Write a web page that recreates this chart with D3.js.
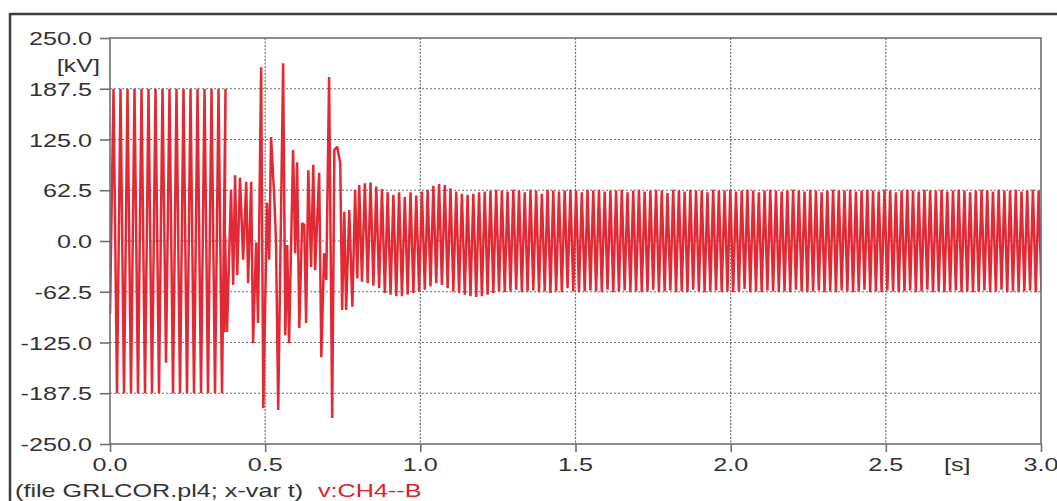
<!DOCTYPE html>
<html>
<head>
<meta charset="utf-8">
<script src="https://cdn.jsdelivr.net/npm/d3@7"></script>
<style>
  html, body { margin: 0; padding: 0; background: #fff; }
  svg { display: block; }
  text { font-family: "Liberation Sans", Arial, sans-serif; }
</style>
</head>
<body>
<svg id="chart" width="1057" height="501"></svg>
<script>
// ---------------- DATA ----------------
const yTickValues = [250, 187.5, 125, 62.5, 0, -62.5, -125, -187.5, -250];
const yTickLabels = ["250.0", "187.5", "125.0", "62.5", "0.0", "-62.5", "-125.0", "-187.5", "-250.0"];
const xTickValues = [0, 0.5, 1.0, 1.5, 2.0, 2.5, 3.0];
const xTickLabels = ["0.0", "0.5", "1.0", "1.5", "2.0", "2.5", "3.0"];
const yUnit = "[kV]";
const xUnit = "[s]";
const footerFile = "(file GRLCOR.pl4; x-var t)";
const footerVar = "v:CH4--B";

// pre-fault section: samples from t = 0 s to 0.361 s, uniform spacing
const preFaultStart = 0;
const preFaultStep = 0.01128;
const preFaultKV = [-90, 187.5, -187.5, 187.5, -187.5, 187.5, -187.5, 187.5, -187.5, 187.5,
  -187.5, 187.5, -187.5, 187.5, -187.5, 187.5, -150, 187.5, -187.5, 187.5,
  -187.5, 187.5, -187.5, 187.5, -187.5, 187.5, -187.5, 187.5, -187.5, 187.5,
  -187.5, 187.5, -187.5, 187.5];

// transient section: vertices (time in s, voltage in kV)
const transientT = [0.368, 0.371, 0.377, 0.390, 0.397, 0.403, 0.410, 0.419, 0.429, 0.439,
  0.445, 0.455, 0.461, 0.471, 0.477, 0.487, 0.494, 0.506, 0.513, 0.519,
  0.529, 0.535, 0.542, 0.558, 0.565, 0.571, 0.577, 0.590, 0.597, 0.603,
  0.610, 0.619, 0.626, 0.632, 0.639, 0.648, 0.655, 0.661, 0.674, 0.681,
  0.690, 0.697, 0.706, 0.716, 0.723, 0.732, 0.742, 0.748, 0.755, 0.761,
  0.771, 0.781, 0.790, 0.797, 0.803];
const transientKV = [-112, 7, -112, 63, -54, 81, -42, 78, -23, 73,
  -52, 73, -126, -2, -101, 214, -206, 47, -23, 128,
  57, -1, -208, 219, -116, -5, -126, 112, -15, 97,
  -107, 22, 20, -101, 87, -32, 94, -36, 84, -143,
  -15, -48, 202, -218, 112, 116, 96, -85, 36, -85,
  38, -81, 63, -46, 69];

// post-fault steady section: uniform spacing from t = 0.812 s
const steadyStart = 0.812;
const steadyStep = 0.0092;
const steadyKV = [
  -50, 71, -52, 72, -55, 67, -58, 64, -64, 60, -66, 57, -68, 60, -68, 54, -66, 60, -64, 56,
  -62, 61, -60, 63, -56, 68, -52, 70, -54, 69, -58, 65, -62, 61, -64, 58, -66, 57, -68, 58,
  -69, 60, -68, 61, -66, 62, -64, 63,
  -62, 62, -63, 61, -62, 63, -60, 62, -63, 60, -62, 63, -61, 62, -63, 58, -62, 63, -64, 62,
  -62, 61, -63, 62, -58, 63, -62, 62, -63, 60, -62, 63, -61, 62, -62, 63, -63, 61, -60, 62,
  -63, 62, -62, 63, -61, 60, -63, 62, -62, 63, -63, 61, -62, 62, -60, 63, -63, 62, -62, 59,
  -61, 63, -63, 62, -62, 61, -63, 63, -60, 62, -62, 62, -63, 60, -62, 63, -61, 62, -63, 62,
  -62, 63, -63, 61, -62, 62, -59, 63, -63, 62, -62, 60, -63, 62, -61, 63, -62, 62, -63, 61,
  -62, 62, -63, 63, -60, 62, -62, 61, -63, 63, -62, 62, -61, 60, -63, 62, -62, 63, -63, 62,
  -61, 62, -62, 63, -63, 61, -62, 62, -60, 63, -63, 62, -62, 61, -63, 63, -61, 62, -62, 60,
  -63, 62, -62, 63, -61, 62, -63, 61, -62, 63, -60, 62, -63, 62, -62, 63, -63, 61, -62, 62,
  -61, 63, -63, 62, -62, 60, -63, 62, -62, 63, -61, 62, -63, 61, -62, 63, -60, 62, -63, 62,
  -62, 63, -63, 61, -62, 62, -61, 63, -63, 62, -62];

// ---------------- CHART ----------------
const svg = d3.select("#chart");
const W = 1057, H = 501;
const plot = { left: 110, right: 1041, top: 38, bottom: 444 };

const x = d3.scaleLinear().domain([0, 3]).range([plot.left, plot.right]);
const y = d3.scaleLinear().domain([-250, 250]).range([plot.bottom, plot.top]);

const textColor = "#333";
const gridColor = "#6e6e6e";
const axisColor = "#707070";
const lineColor = "#e32a34";
const SX = 1.4; // horizontal stretch of the glyphs as in the reference
const FS = 18;

// outer frame
svg.append("line").attr("x1", 10).attr("x2", W).attr("y1", 14).attr("y2", 14)
  .attr("stroke", "#3c3c3c").attr("stroke-width", 2.5);
svg.append("line").attr("x1", 10).attr("x2", 10).attr("y1", 13).attr("y2", H)
  .attr("stroke", "#3c3c3c").attr("stroke-width", 2.5);

// grid
const grid = svg.append("g");
grid.selectAll(".hg").data(yTickValues.filter(v => v !== 250 && v !== -250)).join("line")
  .attr("x1", plot.left).attr("x2", plot.right)
  .attr("y1", d => y(d)).attr("y2", d => y(d))
  .attr("stroke", gridColor).attr("stroke-width", 1).attr("stroke-dasharray", "2,2");
grid.selectAll(".vg").data(xTickValues.filter(v => v !== 0 && v !== 3)).join("line")
  .attr("x1", d => x(d)).attr("x2", d => x(d))
  .attr("y1", plot.top).attr("y2", plot.bottom)
  .attr("stroke", gridColor).attr("stroke-width", 1.2).attr("stroke-dasharray", "2,1.5");

// signal
svg.append("clipPath").attr("id", "clip").append("rect")
  .attr("x", plot.left).attr("y", plot.top - 2)
  .attr("width", plot.right - plot.left).attr("height", plot.bottom - plot.top + 4);

const points = [];
preFaultKV.forEach((v, i) => points.push([preFaultStart + i * preFaultStep, v]));
transientKV.forEach((v, i) => points.push([transientT[i], v]));
steadyKV.forEach((v, i) => points.push([steadyStart + i * steadyStep, v]));

const line = d3.line().x(d => x(d[0])).y(d => y(d[1]));
svg.append("path").datum(points)
  .attr("clip-path", "url(#clip)")
  .attr("d", line)
  .attr("fill", "none")
  .attr("stroke", lineColor)
  .attr("stroke-width", 2.5)
  .attr("stroke-linejoin", "miter")
  .attr("stroke-miterlimit", 2);

// plot frame
svg.append("rect")
  .attr("x", plot.left).attr("y", plot.top)
  .attr("width", plot.right - plot.left).attr("height", plot.bottom - plot.top)
  .attr("fill", "none").attr("stroke", axisColor).attr("stroke-width", 1.6);

// y axis
const yAxis = d3.axisLeft(y).tickValues(yTickValues).tickSize(10).tickFormat("");
const gy = svg.append("g").attr("transform", `translate(${plot.left},0)`).call(yAxis);
gy.select(".domain").remove();
gy.selectAll(".tick line").attr("stroke", axisColor).attr("stroke-width", 1.6);

// x axis
const xAxis = d3.axisBottom(x).tickValues(xTickValues).tickSize(8).tickFormat("");
const gx = svg.append("g").attr("transform", `translate(0,${plot.bottom})`).call(xAxis);
gx.select(".domain").remove();
gx.selectAll(".tick line").attr("stroke", axisColor).attr("stroke-width", 1.6);

// stretched text helper
function stext(px, py, str, anchor, color) {
  svg.append("text")
    .attr("transform", `translate(${px},${py}) scale(${SX},1)`)
    .attr("text-anchor", anchor)
    .attr("font-size", FS)
    .attr("fill", color || textColor)
    .text(str);
}

yTickValues.forEach((v, i) => stext(92, y(v) + 7, yTickLabels[i], "end"));
stext(100, 72, yUnit, "end");
xTickValues.forEach((v, i) => stext(x(v), 471, xTickLabels[i], "middle"));
stext(944, 471, xUnit, "start");
stext(15, 497, footerFile, "start");
stext(318, 497, footerVar, "start", "#e0202c");
</script>
</body>
</html>
